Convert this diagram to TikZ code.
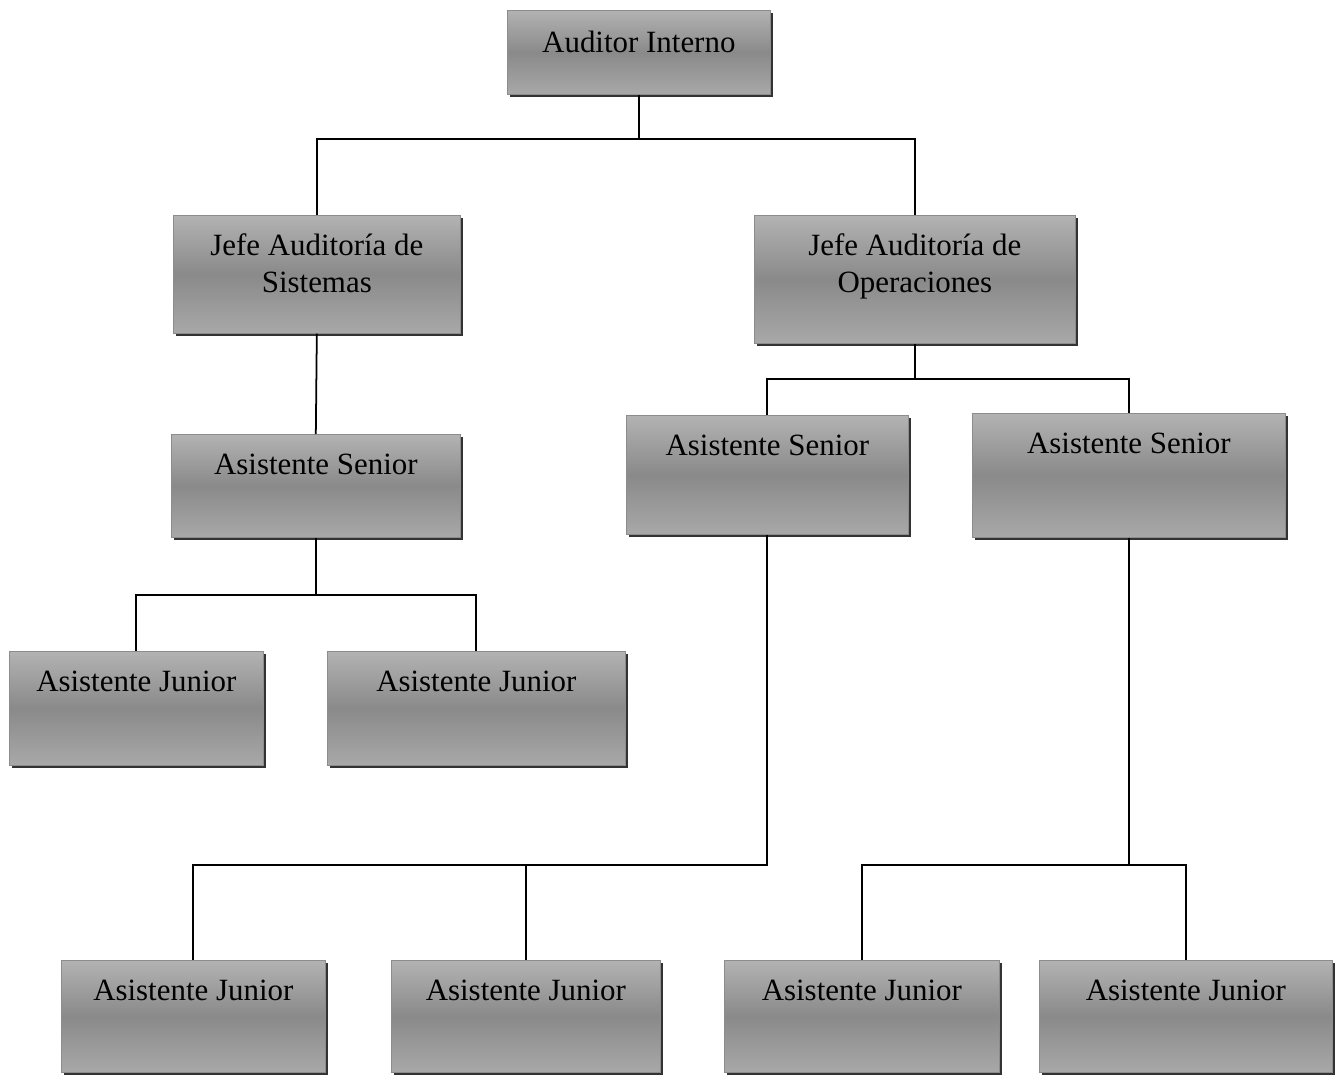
\documentclass[tikz,border=0pt]{standalone}
\usepackage{fontspec}
\setmainfont{Liberation Serif}
\usetikzlibrary{shadows}
\definecolor{boxtop}{gray}{0.70}
\definecolor{boxmid}{gray}{0.54}
\definecolor{boxbot}{gray}{0.66}
\tikzstyle{puesto} = [rectangle, anchor=north west, inner xsep=0pt, inner ysep=0pt, align=center, draw=black!45, top color=boxtop, bottom color=boxbot, middle color=boxmid, drop shadow={shadow xshift=1.6pt, shadow yshift=-1.6pt, fill=black!80, opacity=1}, font=\fontsize{17.6}{21}\selectfont, text height=0.8cm]
\tikzstyle{linea} = [line width=1pt]

\begin{document}
\begin{tikzpicture}[x=0.02cm, y=-0.02cm]
\useasboundingbox (0,0) rectangle (1337,1077);
%\draw[help lines, step=100] (0,0) grid (1337,1077);
\node[puesto, minimum width=5.26cm, text height=0.84cm, text depth=0.84cm] (aud) at (507,10) {Auditor Interno};
\node[puesto, minimum width=5.74cm, text height=1.54cm, text depth=0.82cm] (jefeS) at (173,215) {Jefe Auditoría de\\ Sistemas};
\node[puesto, minimum width=6.42cm, text height=1.54cm, text depth=1.02cm] (jefeO) at (754,215) {Jefe Auditoría de\\ Operaciones};
\node[puesto, minimum width=5.78cm, text depth=1.26cm] (asS) at (171,434) {Asistente Senior};
\node[puesto, minimum width=5.64cm, text depth=1.58cm] (asO1) at (626,415) {Asistente Senior};
\node[puesto, minimum width=6.26cm, text depth=1.68cm] (asO2) at (972,413) {Asistente Senior};
\node[puesto, minimum width=5.08cm, text depth=1.48cm] (ajS1) at (9,651) {Asistente Junior};
\node[puesto, minimum width=5.96cm, text depth=1.48cm] (ajS2) at (327,651) {Asistente Junior};
\node[puesto, minimum width=5.28cm, text depth=1.44cm] (aj1) at (61,960) {Asistente Junior};
\node[puesto, minimum width=5.38cm, text depth=1.44cm] (aj2) at (391,960) {Asistente Junior};
\node[puesto, minimum width=5.50cm, text depth=1.44cm] (aj3) at (724,960) {Asistente Junior};
\node[puesto, minimum width=5.86cm, text depth=1.44cm] (aj4) at (1039,960) {Asistente Junior};

\coordinate (n1) at (0,139);
\coordinate (n2) at (0,379);
\coordinate (n3) at (0,595);
\coordinate (n4) at (0,865);

\draw[linea] (aud.south) -- (aud.south |- n1) -| (jefeS.north)
	(aud.south |- n1) -| (jefeO.north);
\draw[linea] (jefeS.south) -- (asS.north);
\draw[linea] (jefeO.south) -- (jefeO.south |- n2) -| (asO1.north)
	(jefeO.south |- n2) -| (asO2.north);
\draw[linea] (asS.south) -- (asS.south |- n3) -| (ajS1.north)
	(asS.south |- n3) -| (ajS2.north);
\draw[linea] (asO1.south) -- (asO1.south |- n4) -| (aj1.north)
	(aj2.north) -- (aj2.north |- n4);
\draw[linea] (asO2.south) -- (asO2.south |- n4) -| (aj3.north)
	(asO2.south |- n4) -| (aj4.north);
\end{tikzpicture}
\end{document}
